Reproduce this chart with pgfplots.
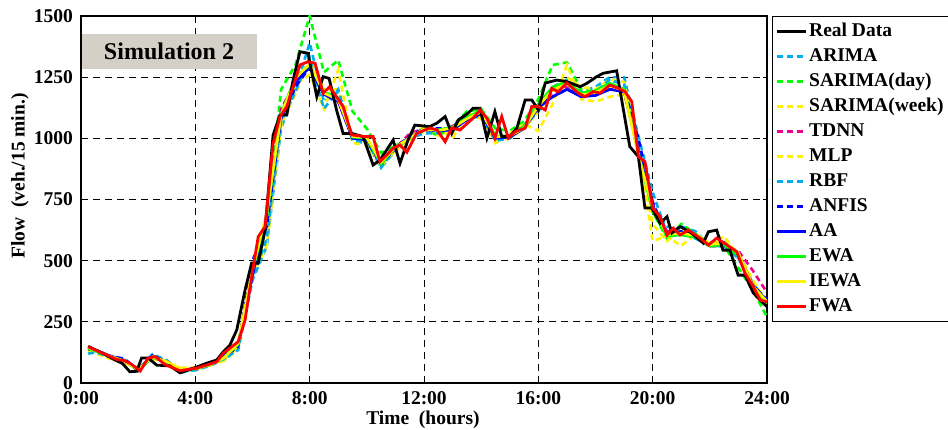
\documentclass[border=0pt]{standalone}
\usepackage{pgfplots}
\pgfplotsset{compat=1.18}
\usepackage{fontspec}
\setmainfont{Liberation Serif}
\definecolor{boxgray}{RGB}{212,208,200}
\newcommand{\bigfont}{\fontsize{19.5}{22}\selectfont\bfseries}
\begin{document}
\begin{tikzpicture}[x=1pt,y=1pt]
\useasboundingbox (0,0) rectangle (948,429);
\begin{axis}[
  at={(81pt,46pt)}, anchor=south west,
  scale only axis, width=686pt, height=367pt,
  xmin=0, xmax=24, ymin=0, ymax=1500,
  xtick={0,4,8,12,16,20,24},
  xticklabels={0:00,4:00,8:00,12:00,16:00,20:00,24:00},
  ytick={0,250,500,750,1000,1250,1500},
  /pgf/number format/assume math mode=true,
  /pgf/number format/1000 sep={},
  ticklabel style={font=\bigfont},
  xticklabel style={anchor=base, yshift=-21pt, inner sep=0pt},
  yticklabel style={anchor=east, xshift=-8pt, inner sep=0pt},
  tick align=inside, major tick length=4pt,
  tick style={black, line width=0.8pt},
  axis line style={black, line width=1.3pt},
  grid=major,
  major grid style={black, line width=0.9pt, dash pattern=on 7pt off 5pt},
  xlabel={Time\ \ (hours)},
  ylabel={Flow\ \ (veh./15 min.)},
  every axis x label/.style={at={(axis description cs:0.4985,-0.1126)}, anchor=base, font=\bigfont},
  every axis y label/.style={at={(axis description cs:-0.0889,0.564)}, rotate=90, anchor=center, font=\bigfont},
  legend cell align=left,
  legend image code/.code={\draw[#1] (0pt,0pt) -- (29pt,0pt);},
  legend style={at={(1.0073,1)}, anchor=north west, draw=black, line width=0.8pt,
    font=\bigfont, inner xsep=3pt, inner ysep=2.5pt, row sep=0pt,
    nodes={inner xsep=2pt, inner ysep=2.5pt, text height=15pt, text depth=5pt}},
]
\addlegendimage{black, line width=2.8pt}
\addlegendimage{cyan, line width=2.8pt, dash pattern=on 6pt off 4pt}
\addlegendimage{green, line width=2.8pt, dash pattern=on 6pt off 4pt}
\addlegendimage{yellow, line width=2.8pt, dash pattern=on 6pt off 4pt}
\addlegendimage{magenta, line width=2.8pt, dash pattern=on 6pt off 4pt}
\addlegendimage{yellow, line width=2.8pt, dash pattern=on 6pt off 4pt}
\addlegendimage{cyan, line width=2.8pt, dash pattern=on 6pt off 4pt}
\addlegendimage{blue, line width=2.8pt, dash pattern=on 6pt off 4pt}
\addlegendimage{blue, line width=2.8pt}
\addlegendimage{green, line width=2.8pt}
\addlegendimage{yellow, line width=2.8pt}
\addlegendimage{red, line width=2.8pt}
\legend{Real Data,ARIMA,SARIMA(day),SARIMA(week),TDNN,MLP,RBF,ANFIS,AA,EWA,IEWA,FWA}

% ARIMA
\addplot[cyan, line width=2.6pt, dash pattern=on 6pt off 4pt, forget plot] coordinates {(0.25,125)(0.5,128)(1.0,105)(1.5,95)(2.0,50)(2.5,112)(3.0,92)(3.5,48)(4.0,52)(4.5,70)(5.0,95)(5.5,140)(6.0,420)(6.5,560)(7.0,1040)(7.5,1200)(8.0,1390)(8.5,1150)(9.0,1190)(9.5,990)(10.0,980)(10.5,880)(11.0,950)(11.5,1010)(12.0,1030)(12.5,1020)(13.0,1050)(13.5,1090)(14.0,1100)(14.5,1000)(15.0,1000)(15.5,1050)(16.0,1120)(16.5,1210)(17.0,1240)(17.5,1190)(18.0,1210)(18.5,1250)(19.0,1250)(19.5,1010)(20.0,780)(20.5,610)(21.0,640)(21.5,620)(22.0,560)(22.5,560)(23.0,510)(23.5,410)(24.0,330)};
% SARIMA(day)
\addplot[green, line width=2.6pt, dash pattern=on 6pt off 4pt, forget plot] coordinates {(0.25,140)(0.5,130)(1.0,105)(1.5,90)(2.0,55)(2.5,112)(3.0,80)(3.5,45)(4.0,60)(4.5,75)(5.0,100)(5.5,150)(6.0,450)(6.5,650)(7.0,1200)(7.5,1300)(8.0,1500)(8.5,1270)(9.0,1320)(9.5,1110)(10.0,1040)(10.5,940)(11.0,970)(11.5,1000)(12.0,1040)(12.5,1010)(13.0,1050)(13.5,1110)(14.0,1120)(14.5,1040)(15.0,1030)(15.5,1070)(16.0,1160)(16.5,1300)(17.0,1310)(17.5,1200)(18.0,1190)(18.5,1230)(19.0,1230)(19.5,950)(20.0,700)(20.5,590)(21.0,650)(21.5,610)(22.0,560)(22.5,560)(23.0,470)(23.5,380)(24.0,270)};
% SARIMA(week)
\addplot[yellow, line width=2.6pt, dash pattern=on 6pt off 4pt, forget plot] coordinates {(0.25,135)(0.5,125)(1.0,100)(1.5,85)(2.0,55)(2.5,105)(3.0,85)(3.5,60)(4.0,55)(4.5,72)(5.0,95)(5.5,145)(6.0,440)(6.5,560)(7.0,1050)(7.5,1220)(8.0,1260)(8.5,1120)(9.0,1280)(9.5,980)(10.0,975)(10.5,880)(11.0,960)(11.5,990)(12.0,1030)(12.5,1040)(13.0,1000)(13.5,1100)(14.0,1090)(14.5,980)(15.0,1020)(15.5,1060)(16.0,1030)(16.5,1140)(17.0,1300)(17.5,1160)(18.0,1150)(18.5,1170)(19.0,1180)(19.5,960)(20.0,580)(20.5,600)(21.0,560)(21.5,610)(22.0,570)(22.5,580)(23.0,530)(23.5,420)(24.0,330)};
% TDNN
\addplot[magenta, line width=2.6pt, dash pattern=on 6pt off 4pt, forget plot] coordinates {(0.25,140)(0.5,132)(1.0,110)(1.5,95)(2.0,50)(2.5,110)(3.0,90)(3.5,48)(4.0,55)(4.5,75)(5.0,100)(5.5,150)(6.0,480)(6.5,650)(7.0,1120)(7.5,1230)(8.0,1290)(8.5,1180)(9.0,1150)(9.5,1000)(10.0,990)(10.5,890)(11.0,960)(11.5,1020)(12.0,1040)(12.5,1030)(13.0,1050)(13.5,1080)(14.0,1100)(14.5,1000)(15.0,1010)(15.5,1040)(16.0,1120)(16.5,1180)(17.0,1210)(17.5,1180)(18.0,1190)(18.5,1220)(19.0,1200)(19.5,960)(20.0,730)(20.5,620)(21.0,620)(21.5,600)(22.0,560)(22.5,560)(23.0,540)(23.5,460)(24.0,370)};
% MLP
\addplot[yellow, line width=2.6pt, dash pattern=on 6pt off 4pt, forget plot] coordinates {(0.25,128)(0.5,122)(1.0,100)(1.5,88)(2.0,60)(2.5,100)(3.0,80)(3.5,62)(4.0,65)(4.5,80)(5.0,90)(5.5,140)(6.0,450)(6.5,580)(7.0,1060)(7.5,1180)(8.0,1330)(8.5,1200)(9.0,1200)(9.5,1000)(10.0,985)(10.5,890)(11.0,950)(11.5,1000)(12.0,1050)(12.5,1010)(13.0,1040)(13.5,1100)(14.0,1080)(14.5,990)(15.0,1000)(15.5,1040)(16.0,1110)(16.5,1190)(17.0,1250)(17.5,1210)(18.0,1200)(18.5,1240)(19.0,1230)(19.5,940)(20.0,650)(20.5,580)(21.0,630)(21.5,590)(22.0,570)(22.5,600)(23.0,520)(23.5,420)(24.0,320)};
% RBF
\addplot[cyan, line width=2.6pt, dash pattern=on 6pt off 4pt, forget plot] coordinates {(0.25,120)(0.5,125)(1.0,108)(1.5,94)(2.0,52)(2.5,118)(3.0,92)(3.5,42)(4.0,55)(4.5,75)(5.0,98)(5.5,135)(6.0,430)(6.5,590)(7.0,1070)(7.5,1190)(8.0,1330)(8.5,1120)(9.0,1200)(9.5,990)(10.0,990)(10.5,880)(11.0,960)(11.5,1000)(12.0,1020)(12.5,1020)(13.0,1040)(13.5,1080)(14.0,1090)(14.5,990)(15.0,1000)(15.5,1050)(16.0,1110)(16.5,1200)(17.0,1220)(17.5,1170)(18.0,1190)(18.5,1240)(19.0,1220)(19.5,970)(20.0,720)(20.5,640)(21.0,620)(21.5,590)(22.0,560)(22.5,565)(23.0,510)(23.5,400)(24.0,340)};
% ANFIS
\addplot[blue, line width=2.6pt, dash pattern=on 6pt off 4pt, forget plot] coordinates {(0.25,138)(0.5,135)(1.0,110)(1.5,100)(2.0,55)(2.5,112)(3.0,88)(3.5,48)(4.0,60)(4.5,75)(5.0,105)(5.5,150)(6.0,500)(6.5,640)(7.0,1080)(7.5,1210)(8.0,1290)(8.5,1180)(9.0,1170)(9.5,1010)(10.0,990)(10.5,895)(11.0,960)(11.5,1010)(12.0,1040)(12.5,1040)(13.0,1040)(13.5,1090)(14.0,1100)(14.5,1005)(15.0,1010)(15.5,1050)(16.0,1140)(16.5,1170)(17.0,1200)(17.5,1180)(18.0,1180)(18.5,1200)(19.0,1200)(19.5,1000)(20.0,740)(20.5,600)(21.0,620)(21.5,600)(22.0,560)(22.5,575)(23.0,520)(23.5,400)(24.0,340)};
% AA
\addplot[blue, line width=2.6pt, forget plot] coordinates {(0.25,142)(0.5,135)(1.0,112)(1.5,94)(2.0,55)(2.5,106)(3.0,85)(3.5,50)(4.0,62)(4.5,74)(5.0,110)(5.5,160)(6.0,440)(6.5,690)(7.0,1090)(7.5,1230)(8.0,1290)(8.5,1180)(9.0,1150)(9.5,1000)(10.0,995)(10.5,900)(11.0,960)(11.5,1005)(12.0,1035)(12.5,1030)(13.0,1035)(13.5,1075)(14.0,1100)(14.5,1000)(15.0,1005)(15.5,1040)(16.0,1125)(16.5,1170)(17.0,1200)(17.5,1170)(18.0,1175)(18.5,1200)(19.0,1190)(19.5,950)(20.0,725)(20.5,610)(21.0,615)(21.5,600)(22.0,565)(22.5,570)(23.0,530)(23.5,400)(24.0,335)};
% EWA
\addplot[green, line width=2.6pt, forget plot] coordinates {(0.25,140)(0.5,130)(1.0,108)(1.5,92)(2.0,52)(2.5,104)(3.0,86)(3.5,48)(4.0,58)(4.5,73)(5.0,104)(5.5,158)(6.0,460)(6.5,680)(7.0,1100)(7.5,1250)(8.0,1300)(8.5,1190)(9.0,1165)(9.5,1005)(10.0,1000)(10.5,895)(11.0,965)(11.5,1000)(12.0,1040)(12.5,1035)(13.0,1045)(13.5,1085)(14.0,1115)(14.5,1010)(15.0,1010)(15.5,1050)(16.0,1140)(16.5,1210)(17.0,1230)(17.5,1185)(18.0,1195)(18.5,1225)(19.0,1200)(19.5,940)(20.0,700)(20.5,600)(21.0,605)(21.5,595)(22.0,560)(22.5,565)(23.0,520)(23.5,390)(24.0,325)};
% IEWA
\addplot[yellow, line width=2.6pt, forget plot] coordinates {(0.25,145)(0.5,133)(1.0,110)(1.5,90)(2.0,56)(2.5,107)(3.0,88)(3.5,52)(4.0,60)(4.5,74)(5.0,102)(5.5,162)(6.0,465)(6.5,695)(7.0,1095)(7.5,1245)(8.0,1305)(8.5,1185)(9.0,1158)(9.5,1008)(10.0,1003)(10.5,903)(11.0,962)(11.5,1002)(12.0,1038)(12.5,1032)(13.0,1042)(13.5,1080)(14.0,1108)(14.5,1006)(15.0,1010)(15.5,1042)(16.0,1132)(16.5,1198)(17.0,1222)(17.5,1178)(18.0,1188)(18.5,1215)(19.0,1195)(19.5,930)(20.0,718)(20.5,607)(21.0,612)(21.5,602)(22.0,566)(22.5,572)(23.0,532)(23.5,397)(24.0,333)};
% Real Data
\addplot[black, line width=2.8pt, forget plot] coordinates {(0.25,150)(0.75,122)(1.19,94)(1.45,80)(1.71,46)(1.95,48)(2.12,102)(2.35,102)(2.65,73)(3.11,70)(3.46,42)(3.93,60)(4.4,81)(4.75,94)(4.98,128)(5.21,155)(5.45,217)(5.74,380)(5.97,490)(6.2,490)(6.44,625)(6.72,1013)(6.96,1095)(7.2,1095)(7.42,1238)(7.66,1354)(7.94,1348)(8.25,1170)(8.47,1252)(8.68,1245)(8.94,1116)(9.17,1020)(9.47,1020)(9.87,1007)(10.22,891)(10.46,911)(10.92,993)(11.16,898)(11.44,993)(11.68,1054)(12.2,1048)(12.45,1062)(12.74,1089)(12.97,1020)(13.2,1075)(13.54,1103)(13.72,1123)(13.96,1123)(14.2,1001)(14.48,1109)(14.72,1007)(15.0,1007)(15.25,1042)(15.54,1157)(15.77,1157)(16.0,1116)(16.24,1226)(16.64,1238)(17.0,1232)(17.46,1211)(17.7,1225)(18.04,1252)(18.27,1266)(18.74,1276)(19.2,966)(19.5,925)(19.73,715)(19.97,715)(20.26,653)(20.5,680)(20.67,613)(20.96,639)(21.3,618)(21.77,572)(21.95,618)(22.24,625)(22.46,543)(22.7,543)(22.99,441)(23.23,441)(23.52,368)(23.82,332)(24.0,312)};
% FWA
\addplot[red, line width=2.8pt, forget plot] coordinates {(0.25,148)(0.75,122)(1.25,96)(1.5,92)(1.75,78)(2.07,49)(2.35,102)(2.6,108)(2.94,75)(3.46,50)(4.0,60)(4.4,73)(4.75,87)(4.98,122)(5.27,148)(5.5,169)(5.74,257)(5.97,434)(6.2,598)(6.44,639)(6.72,978)(6.96,1088)(7.2,1130)(7.42,1211)(7.66,1300)(7.94,1313)(8.19,1307)(8.47,1185)(8.7,1211)(9.17,1130)(9.47,1014)(9.94,1007)(10.22,1007)(10.46,905)(10.7,932)(10.92,960)(11.16,973)(11.4,943)(11.74,1020)(12.2,1042)(12.45,1035)(12.74,986)(12.97,1042)(13.26,1034)(13.72,1083)(13.96,1116)(14.2,1083)(14.48,1001)(14.72,1089)(14.95,1001)(15.2,1028)(15.54,1042)(15.77,1130)(16.0,1130)(16.24,1116)(16.47,1204)(16.7,1191)(17.0,1226)(17.4,1185)(17.63,1170)(17.92,1191)(18.16,1185)(18.5,1218)(18.8,1204)(19.03,1191)(19.27,1150)(19.5,925)(19.73,905)(20.0,715)(20.26,680)(20.5,605)(20.72,633)(20.96,605)(21.25,625)(21.66,592)(21.95,564)(22.24,592)(22.6,564)(22.94,537)(23.23,449)(23.52,394)(23.76,339)(24.0,332)};

\node[fill=boxgray, minimum width=175pt, minimum height=35pt, inner sep=0pt,
  font=\fontsize{24}{26}\selectfont\bfseries] at (rel axis cs:0.1283,0.9033) {Simulation 2};
\end{axis}
\end{tikzpicture}
\end{document}
